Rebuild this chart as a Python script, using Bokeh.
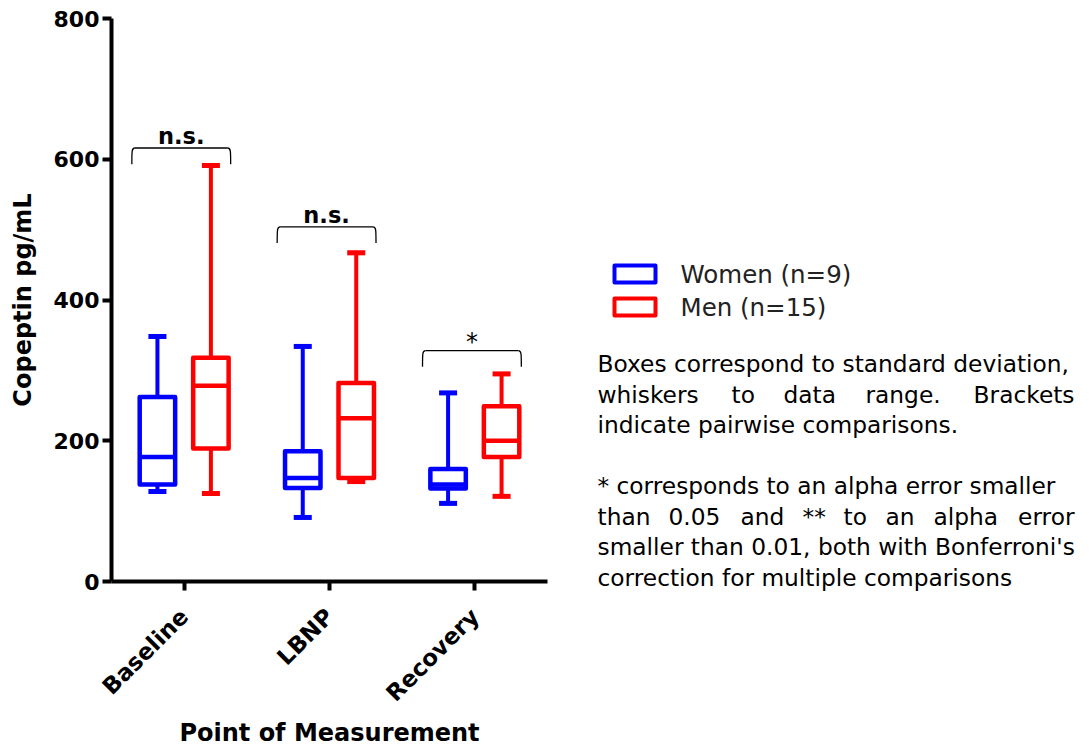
import numpy as np
from bokeh.plotting import figure
from bokeh.models import Range1d, FixedTicker, ColumnDataSource, Label, LinearAxis
from bokeh.layouts import row
from bokeh.core.properties import value
from bokeh.embed import file_html
from bokeh.resources import INLINE

# ---------------- data ----------------
categories = ["Baseline", "LBNP", "Recovery"]
series = ["Women (n=9)", "Men (n=15)"]
colors = ["#0000FF", "#FF0000"]

women_min = [128, 91, 111]
women_q1 = [138, 133, 132]
women_med = [177, 147, 138]
women_q3 = [262, 185, 160]
women_max = [348, 334, 268]

men_min = [125, 142, 121]
men_q1 = [189, 147, 177]
men_med = [278, 232, 200]
men_q3 = [318, 282, 249]
men_max = [591, 467, 295]

bracket_y = [616, 504, 328]
bracket_labels = ["n.s.", "n.s.", "*"]

y_ticks = [0, 200, 400, 600, 800]

FONT = "DejaVu Sans"

# ---------------- layout geometry (pixels) ----------------
W1, H = 570, 749
AX_LEFT, AX_RIGHT, AX_TOP, AX_BOTTOM = 111, 547, 18, 581
Y0, Y1 = 0, 800
X0, X1 = 0, len(categories)
ypx = (AX_BOTTOM - AX_TOP) / (Y1 - Y0)
xpx = (AX_RIGHT - AX_LEFT) / (X1 - X0)
x_range = Range1d(X0 - AX_LEFT / xpx, X1 + (W1 - AX_RIGHT) / xpx)
y_range = Range1d(Y0 - (H - AX_BOTTOM) / ypx, Y1 + AX_TOP / ypx)

# ---------------- chart ----------------
p = figure(width=W1, height=H, x_range=x_range, y_range=y_range,
           output_backend="svg", toolbar_location=None,
           x_axis_type=None, y_axis_type=None,
           min_border_left=0, min_border_right=0, min_border_top=0, min_border_bottom=0)
p.grid.visible = False
p.outline_line_color = None
p.background_fill_color = "white"
p.border_fill_color = "white"

base = np.arange(len(categories)) + 0.5
offsets = [-0.184, 0.184]
hw = 0.122
cw = 0.062
stats = [
    (women_min, women_q1, women_med, women_q3, women_max),
    (men_min, men_q1, men_med, men_q3, men_max),
]
for (mn, q1, md, q3, mx), off, col in zip(stats, offsets, colors):
    xc = base + off
    src = ColumnDataSource(dict(x=xc, l=xc - hw, r=xc + hw, cl=xc - cw, cr=xc + cw,
                                mn=mn, q1=q1, md=md, q3=q3, mx=mx))
    p.segment(x0="x", x1="x", y0="q3", y1="mx", source=src, line_color=col, line_width=4)
    p.segment(x0="x", x1="x", y0="mn", y1="q1", source=src, line_color=col, line_width=4)
    p.segment(x0="cl", x1="cr", y0="mx", y1="mx", source=src, line_color=col, line_width=5)
    p.segment(x0="cl", x1="cr", y0="mn", y1="mn", source=src, line_color=col, line_width=5)
    p.quad(left="l", right="r", bottom="q1", top="q3", source=src, fill_color=None,
           line_color=col, line_width=4.5, line_join="round")
    p.segment(x0="l", x1="r", y0="md", y1="md", source=src, line_color=col, line_width=4.5)

# brackets
bc = base - 0.02
bh = 0.34
hook = 23
by = np.array(bracket_y, dtype=float)
p.segment(x0=bc - bh + 0.02, x1=bc + bh - 0.02, y0=by, y1=by, line_color="black", line_width=1.3)
p.bezier(x0=bc - bh + 0.02, y0=by, x1=bc - bh, y1=by - hook, cx0=bc - bh, cy0=by,
         cx1=bc - bh, cy1=by - 4, line_color="black", line_width=1.3)
p.bezier(x0=bc + bh - 0.02, y0=by, x1=bc + bh, y1=by - hook, cx0=bc + bh, cy0=by,
         cx1=bc + bh, cy1=by - 4, line_color="black", line_width=1.3)
styles = ["normal" if s == "*" else "bold" for s in bracket_labels]
sizes = ["24px" if s == "*" else "22.5px" for s in bracket_labels]
lift = [13 if s == "*" else 17 for s in bracket_labels]
lsrc = ColumnDataSource(dict(x=bc, y=by + np.array(lift), t=bracket_labels, st=styles, sz=sizes))
p.text(x="x", y="y", text="t", source=lsrc, text_align="center", text_baseline="alphabetic",
       text_font=value(FONT), text_font_style="st", text_font_size="sz", text_color="black")

# axes, drawn at fixed data locations inside the full-canvas frame
xaxis = LinearAxis(fixed_location=Y0, bounds=(X0, X1))
yaxis = LinearAxis(fixed_location=X0, bounds=(Y0, Y1))
p.add_layout(xaxis, "below")
p.add_layout(yaxis, "left")
for ax in (xaxis, yaxis):
    ax.axis_line_width = 4
    ax.axis_line_color = "black"
    ax.major_tick_line_width = 4
    ax.major_tick_line_color = "black"
    ax.major_tick_out = 9
    ax.major_tick_in = 0
    ax.minor_tick_line_color = None
    ax.major_label_text_font = FONT
    ax.major_label_text_font_style = "bold"
    ax.major_label_text_color = "black"
    ax.axis_label_text_font = FONT
    ax.axis_label_text_font_style = "bold"
    ax.axis_label_text_font_size = "24px"
    ax.axis_label_text_color = "black"

yaxis.ticker = FixedTicker(ticks=y_ticks)
yaxis.major_label_text_font_size = "22px"
yaxis.major_label_standoff = 3
yaxis.axis_label = "Copeptin pg/mL"
yaxis.axis_label_standoff = 14

xaxis.ticker = FixedTicker(ticks=list(base))
xaxis.major_label_overrides = {float(b): c for b, c in zip(base, categories)}
xaxis.major_label_text_font_size = "23px"
xaxis.major_label_orientation = np.pi / 4
xaxis.major_label_standoff = 22
xaxis.axis_label = "Point of Measurement"
xaxis.axis_label_standoff = 0

# ---------------- side panel ----------------
W2 = 519
q = figure(width=W2, height=H, x_range=Range1d(W1, W1 + W2), y_range=Range1d(H, 0),
           output_backend="svg", toolbar_location=None,
           min_border_left=0, min_border_right=0, min_border_top=0, min_border_bottom=0,
           x_axis_type=None, y_axis_type=None)
q.grid.visible = False
q.outline_line_color = None

leg_y = [273.5, 306.5]
for name, col, yy in zip(series, colors, leg_y):
    q.quad(left=[614], right=[655], top=[yy - 8.5], bottom=[yy + 8.5], fill_color=None,
           line_color=col, line_width=4, line_join="round")
    q.add_layout(Label(x=680, y=yy, text=name, text_baseline="middle", text_align="left",
                       text_font=FONT, text_font_size="24.5px", text_color="#222222"))

para_lines = [
    (363, [("Boxes correspond to standard deviation,", 597, "left")]),
    (394, [("whiskers", 597, "left"), ("to", 731, "left"), ("data", 783, "left"),
           ("range.", 865, "left"), ("Brackets", 1074, "right")]),
    (424, [("indicate pairwise comparisons.", 597, "left")]),
    (485, [("* corresponds to an alpha error smaller", 597, "left")]),
    (516, [("than", 597, "left"), ("0.05", 668, "left"), ("and", 740, "left"),
           ("**", 802, "left"), ("to", 843, "left"), ("an", 885, "left"),
           ("alpha", 933, "left"), ("error", 1074, "right")]),
    (546, [("smaller than 0.01, both with Bonferroni's", 597, "left")]),
    (577, [("correction for multiple comparisons", 597, "left")]),
]
for yy, words in para_lines:
    for w, xx, al in words:
        q.add_layout(Label(x=xx, y=yy, text=w, text_baseline="middle", text_align=al,
                           text_font=FONT, text_font_size="23.3px", text_color="black"))

layout = row(p, q)
open("out.html", "w").write(file_html(layout, INLINE))
